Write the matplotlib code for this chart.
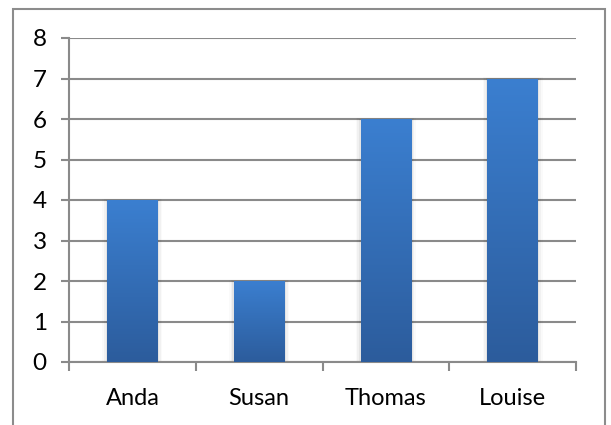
import matplotlib
matplotlib.use("Agg")
import matplotlib.pyplot as plt
import matplotlib.patches as mpatches
import numpy as np
from matplotlib.colors import LinearSegmentedColormap

categories = ["Anda", "Susan", "Thomas", "Louise"]
values = [4, 2, 6, 7]
yticks = [0, 1, 2, 3, 4, 5, 6, 7, 8]

W, H = 611, 425
fig = plt.figure(figsize=(W / 100, H / 100), dpi=100)
plt.rcParams['font.family'] = ['Lato', 'DejaVu Sans']

ax = fig.add_axes([69 / W, 1 - 362 / H, (576 - 69) / W, (362 - 38) / H])
grid_c = "#8a8a8a"

x = np.arange(len(categories))
bars = ax.bar(x, values, width=0.4, color="none", edgecolor="none", zorder=3)
ax.set_xlim(-0.5, len(categories) - 0.5)
ax.set_ylim(0, 8)

cmap = LinearSegmentedColormap.from_list("g", ["#2c5c9c", "#3b7fd0"])
grad = np.linspace(0, 1, 256).reshape(-1, 1)
for b in bars:
    x0, y0 = b.get_x(), b.get_y()
    w, h = b.get_width(), b.get_height()
    # soft shadow
    for k, a in enumerate([0.05, 0.035, 0.02]):
        d = 0.012 * (k + 1)
        sh = mpatches.Rectangle((x0 - d, y0), w + 2 * d, h + 0.01 * (k + 1),
                                facecolor="black", alpha=a, edgecolor="none", zorder=2)
        ax.add_patch(sh)
    im = ax.imshow(grad, extent=[x0, x0 + w, y0, y0 + h], origin="lower",
                   cmap=cmap, aspect="auto", zorder=3)
    im.set_clip_path(b)
ax.set_xlim(-0.5, len(categories) - 0.5)
ax.set_ylim(0, 8)

ax.set_yticks(yticks)
ax.set_yticklabels([str(v) for v in yticks], fontsize=17.5)
ax.set_xticks(x)
ax.set_xticklabels(categories, fontsize=17)
ax.set_xticks(np.arange(-0.5, len(categories)), minor=True)
ax.tick_params(axis="x", which="major", length=0, pad=19)
ax.tick_params(axis="x", which="minor", length=6.5, width=1.5, color=grid_c, direction="out")
ax.tick_params(axis="y", length=6, width=1.5, color=grid_c, pad=10)
ax.yaxis.grid(True, color=grid_c, linewidth=1.5, zorder=1)
ax.set_axisbelow(True)
for s in ["top", "right"]:
    ax.spines[s].set_visible(False)
for s in ["left", "bottom"]:
    ax.spines[s].set_color(grid_c)
    ax.spines[s].set_linewidth(1.5)

border = mpatches.Rectangle((13 / W, -0.1), (605 - 13) / W, 1 - 9 / H + 0.1,
                            transform=fig.transFigure, facecolor="none",
                            edgecolor="#8c8c8c", linewidth=1.5, clip_on=False)
fig.patches.append(border)

fig.savefig("out.png", dpi=100)
